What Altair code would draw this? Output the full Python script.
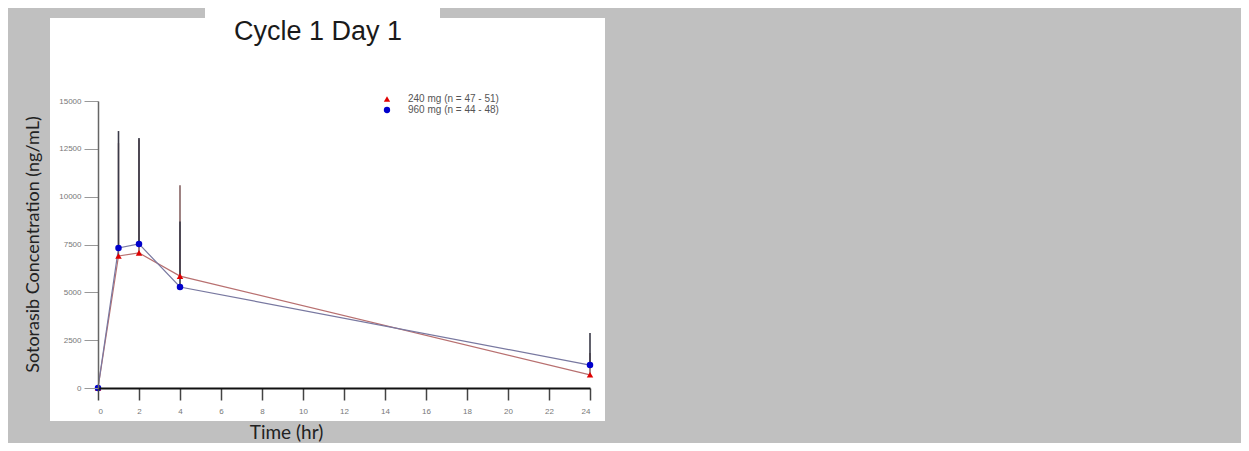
import altair as alt
import pandas as pd

# ---- data ----
time_hr = [0, 1, 2, 4, 24]
series_names = ["240 mg (n = 47 - 51)", "960 mg (n = 44 - 48)"]
mean_240 = [0, 6900, 7060, 5850, 690]
mean_960 = [0, 7320, 7530, 5280, 1200]
upper_240 = [0, 12800, 13000, 10600, 1830]
upper_960 = [0, 13430, 13070, 8700, 2880]
x_ticks = list(range(0, 25, 2))
y_ticks = [0, 2500, 5000, 7500, 10000, 12500, 15000]

rows = []
for name, means, ups in [(series_names[0], mean_240, upper_240),
                         (series_names[1], mean_960, upper_960)]:
    for t, m, u in zip(time_hr, means, ups):
        rows.append({"time": t, "mean": m, "upper": u, "series": name})
df = pd.DataFrame(rows)

W, H = 492, 287
x_scale = alt.Scale(domain=[0, 24], nice=False)
y_scale = alt.Scale(domain=[0, 15000], nice=False)

one = pd.DataFrame({"k": [0]})

panel = alt.Chart(one).mark_rect(color="white").encode(
    x=alt.value(-48), x2=alt.value(507), y=alt.value(-83), y2=alt.value(320))
title_box = alt.Chart(one).mark_rect(color="white").encode(
    x=alt.value(107), x2=alt.value(342), y=alt.value(-93), y2=alt.value(-56))
title_txt = alt.Chart(pd.DataFrame({"t": ["Cycle 1 Day 1"]})).mark_text(
    font="Liberation Sans", fontSize=27, color="#1a1a1a", align="center",
    baseline="alphabetic").encode(text="t:N", x=alt.value(220), y=alt.value(-61))

x_enc = alt.X("time:Q", scale=x_scale, axis=alt.Axis(
    values=x_ticks, format="d", title="Time (hr)", labelFontSize=8,
    labelFont="Liberation Sans", labelColor="#777", tickSize=12, tickColor="#444",
    tickWidth=1.5, domainColor="#111", domainWidth=2, labelPadding=7, grid=False,
    titleFont="Lato", titleFontSize=19, titleFontWeight="normal", titleColor="#222",
    titleX=188, titleY=44, titleBaseline="middle", titleAlign="center", zindex=1))
y_enc = alt.Y("mean:Q", scale=y_scale, axis=alt.Axis(
    values=y_ticks, format="d", title="Sotorasib Concentration (ng/mL)",
    labelFontSize=8, labelFont="Liberation Sans", labelColor="#777", tickSize=14,
    tickColor="#999", domainColor="#666", domainWidth=1.5, labelPadding=3,
    grid=False, titleFont="Lato", titleFontSize=18, titleFontWeight="normal",
    titleColor="#222", titleX=-65, titleY=143, titleBaseline="middle",
    titleAlign="center", titleAngle=-90, zindex=1))

base = alt.Chart(df)

err_240 = base.transform_filter(alt.datum.series == series_names[0]).mark_rule(
    color="#6a4040", strokeWidth=1.3).encode(x=x_enc, y=y_enc, y2="upper:Q")
err_960 = base.transform_filter(alt.datum.series == series_names[1]).mark_rule(
    color="#3a3a48", strokeWidth=1.6).encode(x=x_enc, y=y_enc, y2="upper:Q")

line_240 = base.transform_filter(alt.datum.series == series_names[0]).mark_line(
    color="#b87070", strokeWidth=1.2).encode(x=x_enc, y=y_enc)
line_960 = base.transform_filter(alt.datum.series == series_names[1]).mark_line(
    color="#7878a0", strokeWidth=1.2).encode(x=x_enc, y=y_enc)

points = base.mark_point(filled=True, opacity=1, size=42).encode(
    x=x_enc, y=y_enc,
    color=alt.Color("series:N", scale=alt.Scale(domain=series_names,
                                                range=["#e00000", "#0000cc"]),
                    legend=alt.Legend(title=None, orient="none", legendX=284,
                                      legendY=-7, labelFont="Liberation Sans",
                                      labelFontSize=10, labelColor="#555",
                                      symbolSize=40, labelOffset=16, rowPadding=1,
                                      padding=0)),
    shape=alt.Shape("series:N", scale=alt.Scale(domain=series_names,
                                                range=["triangle-up", "circle"]),
                    legend=None))

chart = alt.layer(panel, title_box, err_240, err_960, line_240, line_960, points,
                  title_txt).properties(
    width=W, height=H,
    autosize=alt.AutoSizeParams(type="none"),
    padding={"left": 90, "top": 93, "right": 651, "bottom": 55},
    background="#c0c0c0",
).configure_view(stroke=None)

chart.save("out.html", embed_options={"renderer": "svg", "actions": False})
